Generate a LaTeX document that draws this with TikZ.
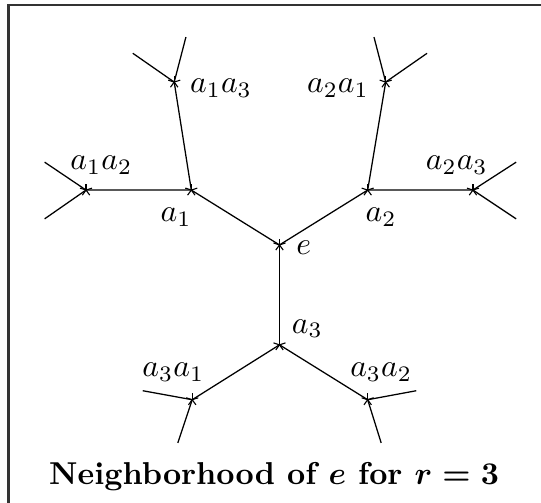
\documentclass[tikz,border=0pt]{standalone}
\usepackage{amsmath,amssymb}
\usepackage{bm}
\usepackage{tikz}
\usetikzlibrary{calc}

\begin{document}
\begin{tikzpicture}[
    vtx/.style={circle, inner sep=0pt, minimum size=0pt},
    lbl/.style={inner sep=0pt},
    frame/.style={line width=0.8pt, black!80},
    spoke/.style={line width=0.35pt},
]
\useasboundingbox (-3.106,-2.867) rectangle (2.906,2.722);
\draw[frame] (-3.01,-2.9) -- (-3.01,2.667) -- (2.95,2.667);

% the ball of radius 2 round e
\node[vtx, label={[lbl, shift={(0.27,-0.03)}]center:$e$}] (e) at (0,0) {};
\node[vtx, label={[lbl, shift={(-0.17,-0.30)}]center:$a_1$}] (a1) at (-0.98,0.61) {};
\node[vtx, label={[lbl, shift={(0.15,-0.30)}]center:$a_2$}] (a2) at (0.98,0.61) {};
\node[vtx, label={[lbl, shift={(0.31,0.18)}]center:$a_3$}] (a3) at (0,-1.11) {};
\node[vtx, label={[lbl, shift={(0.17,0.28)}]center:$a_1a_2$}] (a1a2) at (-2.15,0.61) {};
\node[vtx, label={[lbl, shift={(0.52,-0.07)}]center:$a_1a_3$}] (a1a3) at (-1.17,1.81) {};
\node[vtx, label={[lbl, shift={(-0.53,-0.07)}]center:$a_2a_1$}] (a2a1) at (1.18,1.81) {};
\node[vtx, label={[lbl, shift={(-0.18,0.28)}]center:$a_2a_3$}] (a2a3) at (2.15,0.61) {};
\node[vtx, label={[lbl, shift={(-0.21,0.31)}]center:$a_3a_1$}] (a3a1) at (-0.97,-1.72) {};
\node[vtx, label={[lbl, shift={(0.15,0.31)}]center:$a_3a_2$}] (a3a2) at (0.98,-1.72) {};

% loose ends
\coordinate (u1) at (-2.61,0.92);
\coordinate (u2) at (-2.61,0.29);
\coordinate (u3) at (-1.63,2.13);
\coordinate (u4) at (-1.04,2.31);
\coordinate (u5) at (1.05,2.31);
\coordinate (u6) at (1.64,2.13);
\coordinate (u7) at (2.63,0.92);
\coordinate (u8) at (2.63,0.29);
\coordinate (u9) at (-1.52,-1.62);
\coordinate (u10) at (-1.13,-2.2);
\coordinate (u11) at (1.52,-1.62);
\coordinate (u12) at (1.13,-2.2);

\draw (a1a2) -- (a1) -- (e) -- (a2) -- (a2a3);
\draw (a1a3) -- (a1);
\draw (a2a1) -- (a2);
\draw (e) -- (a3);
\draw (a3a1) -- (a3) -- (a3a2);
\foreach \v/\p/\q in {a1a2/u1/u2, a1a3/u3/u4, a2a1/u5/u6, a2a3/u7/u8,
                      a3a1/u9/u10, a3a2/u11/u12}
    \draw (\p) -- (\v) -- (\q);

% star marks on the vertices
\foreach \v in {e,a1,a2,a3,a1a2,a1a3,a2a1,a2a3,a3a1,a3a2}
    \foreach \a in {90,162,234,306,378}
        \draw[spoke] (\v.center) -- ++(\a:2pt);

\node (title) at (-0.06,-2.57) {\textbf{\boldmath Neighborhood of $e$ for $r=3$}};
\end{tikzpicture}
\end{document}
